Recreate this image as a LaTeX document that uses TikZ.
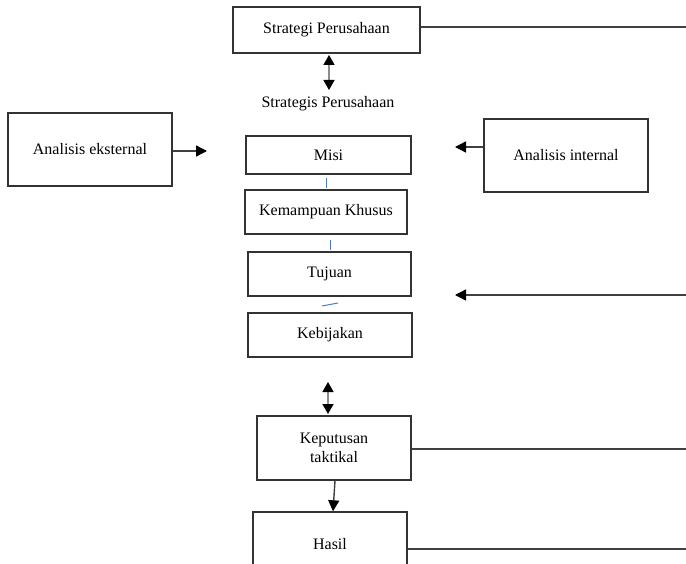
\documentclass[tikz,border=0pt]{standalone}
\usepackage{fontspec}
\setmainfont{Liberation Serif}
\usetikzlibrary{arrows.meta}
\definecolor{linkblue}{RGB}{80,120,200}
\begin{document}
\begin{tikzpicture}[x=1pt,y=-1pt,
  box/.style={draw=black!80,line width=1.4pt,fill=white,inner sep=0pt,
    font=\fontsize{16}{19.5}\selectfont,align=center},
  conn/.style={draw=black!75,line width=1.4pt},
  tip/.style={Triangle[width=11pt,length=11pt,color=black]},
  arr/.style={conn,-{Triangle[width=11pt,length=11pt,color=black]}},
  darr/.style={draw=black!45,line width=1.4pt,
    {Triangle[width=11pt,length=10pt,color=black]}-{Triangle[width=11pt,length=10pt,color=black]}},
  link/.style={draw=linkblue,line width=1pt}]
\useasboundingbox (0,0) rectangle (686,564);
\clip (0,0) rectangle (686,564);
\fill[white] (0,0) rectangle (686,564);

% main column
\node[box,minimum width=187pt,minimum height=46pt] (strat) at (326.5,30) {Strategi Perusahaan};
\node[font=\fontsize{16}{19.5}\selectfont] (stratis) at (328,104) {Strategis Perusahaan};
\node[box,minimum width=165pt,minimum height=38pt] (misi) at (328.5,155) {Misi};
\node[box,minimum width=162pt,minimum height=44pt] (kk) at (326,212) {Kemampuan Khusus};
\node[box,minimum width=163pt,minimum height=44pt] (tuj) at (329.5,274) {Tujuan};
\node[box,minimum width=164pt,minimum height=44pt] (keb) at (330,335) {Kebijakan};
\node[box,minimum width=154pt,minimum height=64pt] (kep) at (334,448) {Keputusan\\taktikal};
\node[box,minimum width=154pt,minimum height=64pt] (hasil) at (330,544) {Hasil};

% side analyses
\node[box,minimum width=164pt,minimum height=73pt] (ext) at (90,149.5) {Analisis eksternal};
\node[box,minimum width=164pt,minimum height=73pt] (intl) at (566,155.5) {Analisis internal};

% free ends
\coordinate (extTip) at (207,151);
\coordinate (intTip) at (455,147);
\coordinate (fbTip) at (455,295);
\coordinate (fbTop) at (686,27);
\coordinate (fbMid) at (686,295);
\coordinate (fbKep) at (686,449);
\coordinate (fbHasil) at (686,549);
\coordinate (dTop1) at (329,55);
\coordinate (dTop2) at (329,90);
\coordinate (dLow1) at (328,382);
\coordinate (dLow2) at (328,414);

% arrows
\draw[darr] (dTop1) -- (dTop2);
\draw[darr] (dLow1) -- (dLow2);
\draw[arr] (ext.east |- extTip) -- (extTip);
\draw[arr] (intl.west |- intTip) -- (intTip);
\draw[arr] (fbMid) -- (fbTip);
\draw[arr] ([xshift=1pt]kep.south) -- ([xshift=3pt]hasil.north);

% feedback lines
\draw[conn] (strat.east |- fbTop) -- (fbTop);
\draw[conn] (kep.east |- fbKep) -- (fbKep);
\draw[conn] (hasil.east |- fbHasil) -- (fbHasil);

% short links in the column
\draw[link] (326,178) -- (326,188);
\draw[link] (330,240) -- (330,250);
\draw[link] (322,306) -- (338,303);
\end{tikzpicture}
\end{document}
